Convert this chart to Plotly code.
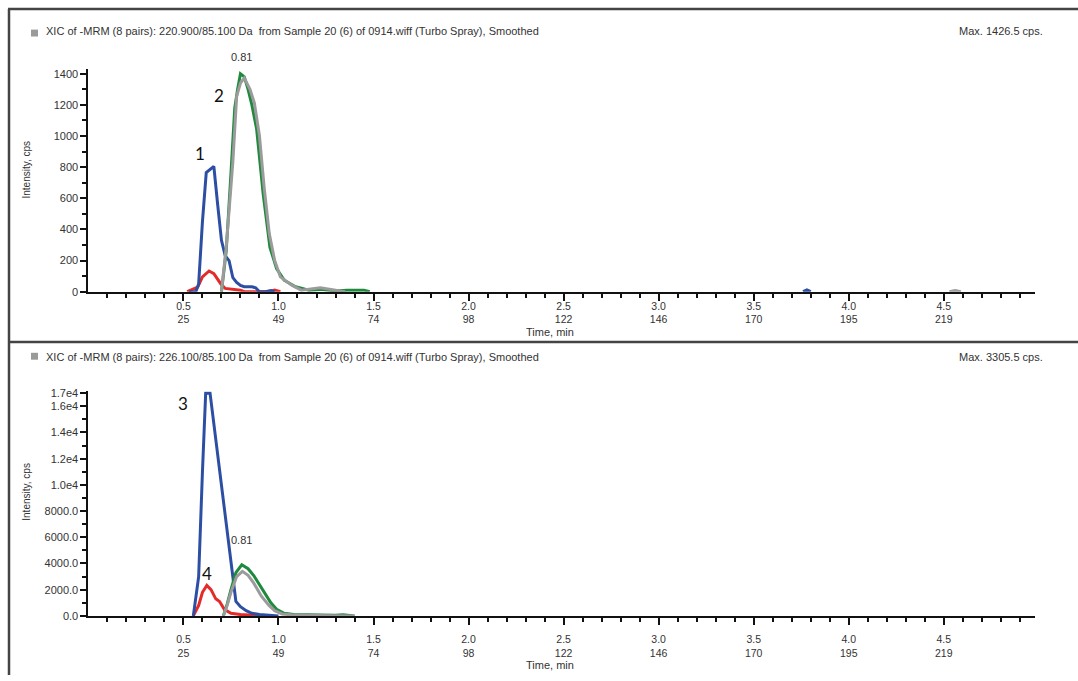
import plotly.graph_objects as go

W, H = 1078, 681

# ---------------- data ----------------
# Top panel (220.900/85.100 Da)
top_blue_t = [0.53, 0.565, 0.58, 0.60, 0.62, 0.64, 0.66, 0.68, 0.70, 0.72, 0.74, 0.76, 0.78, 0.80, 0.82, 0.84, 0.86, 0.88, 0.90, 0.93, 0.96, 0.98]
top_blue_v = [0, 0, 50, 450, 765, 785, 805, 560, 330, 230, 200, 90, 60, 40, 32, 32, 32, 25, 0, 0, 8, 0]
top_red_t = [0.52, 0.575, 0.60, 0.635, 0.66, 0.695, 0.72, 0.77, 0.80, 0.82, 0.95, 0.98, 1.01]
top_red_v = [0, 30, 95, 133, 116, 53, 21, 15, 10, 0, 0, 10, 0]
top_green_t = [0.70, 0.725, 0.75, 0.77, 0.785, 0.80, 0.82, 0.84, 0.86, 0.885, 0.92, 0.955, 0.99, 1.03, 1.09, 1.16, 1.22, 1.30, 1.36, 1.40, 1.45, 1.48]
top_green_v = [0, 260, 760, 1180, 1300, 1400, 1380, 1300, 1200, 1045, 622, 285, 148, 74, 32, 10, 15, 5, 10, 8, 10, 0]
top_grey_t = [0.70, 0.725, 0.76, 0.78, 0.80, 0.82, 0.85, 0.873, 0.90, 0.925, 0.952, 0.98, 1.01, 1.07, 1.12, 1.20, 1.22, 1.30, 1.35]
top_grey_v = [0, 285, 833, 1255, 1340, 1372, 1300, 1213, 1000, 665, 370, 200, 95, 42, 10, 21, 25, 10, 0]
top_blip_blue_t = [3.76, 3.78, 3.80]
top_blip_blue_v = [0, 12, 0]
top_blip_grey_t = [4.53, 4.56, 4.59]
top_blip_grey_v = [0, 8, 0]
top_edge_v = [65]

# Bottom panel (226.100/85.100 Da)
bot_blue_t = [0.552, 0.58, 0.60, 0.617, 0.64, 0.66, 0.68, 0.70, 0.72, 0.74, 0.76, 0.776, 0.80, 0.83, 0.86, 0.90, 0.95, 1.00]
bot_blue_v = [0, 3000, 11000, 17000, 17000, 14600, 12300, 9900, 7600, 5200, 2900, 1100, 700, 400, 200, 100, 50, 0]
bot_red_t = [0.552, 0.58, 0.60, 0.623, 0.645, 0.67, 0.69, 0.715, 0.75, 0.80, 0.87, 0.92]
bot_red_v = [0, 800, 1800, 2330, 2000, 1300, 1100, 500, 200, 100, 50, 0]
bot_green_t = [0.71, 0.73, 0.75, 0.776, 0.807, 0.84, 0.87, 0.917, 0.96, 0.99, 1.03, 1.08, 1.20, 1.30, 1.34, 1.38, 1.40]
bot_green_v = [0, 900, 2000, 3300, 3900, 3600, 3080, 2000, 1000, 500, 200, 100, 50, 40, 80, 40, 0]
bot_grey_t = [0.71, 0.73, 0.75, 0.78, 0.81, 0.84, 0.87, 0.91, 0.95, 0.98, 1.02, 1.08, 1.20, 1.30, 1.40]
bot_grey_v = [0, 800, 1800, 3000, 3400, 3100, 2500, 1500, 800, 400, 150, 60, 30, 20, 0]
bot_edge_v = [1000]

# Axis ticks
x_major = [0.5, 1.0, 1.5, 2.0, 2.5, 3.0, 3.5, 4.0, 4.5]
x_minutes = ["0.5", "1.0", "1.5", "2.0", "2.5", "3.0", "3.5", "4.0", "4.5"]
x_cycles = ["25", "49", "74", "98", "122", "146", "170", "195", "219"]
x_minor = [0.1, 0.2, 0.3, 0.4, 0.6, 0.7, 0.8, 0.9, 1.1, 1.2, 1.3, 1.4, 1.6, 1.7, 1.8, 1.9,
           2.1, 2.2, 2.3, 2.4, 2.6, 2.7, 2.8, 2.9, 3.1, 3.2, 3.3, 3.4, 3.6, 3.7, 3.8, 3.9,
           4.1, 4.2, 4.3, 4.4, 4.6, 4.7, 4.8, 4.9]
top_y_major = [0, 200, 400, 600, 800, 1000, 1200, 1400]
top_y_minor = [100, 300, 500, 700, 900, 1100, 1300]
bot_y_major = [0, 2000, 4000, 6000, 8000, 10000, 12000, 14000, 16000, 17000]
bot_y_text = ["0.0", "2000.0", "4000.0", "6000.0", "8000.0", "1.0e4", "1.2e4", "1.4e4", "1.6e4", "1.7e4"]
bot_y_minor = [1000, 3000, 5000, 7000, 9000, 11000, 13000, 15000]

top_title = "XIC of -MRM (8 pairs): 220.900/85.100 Da  from Sample 20 (6) of 0914.wiff (Turbo Spray), Smoothed"
bot_title = "XIC of -MRM (8 pairs): 226.100/85.100 Da  from Sample 20 (6) of 0914.wiff (Turbo Spray), Smoothed"
top_max = "Max. 1426.5 cps."
bot_max = "Max. 3305.5 cps."

# ---------------- style ----------------
BLUE = "#2d4fa3"
RED = "#e52a2a"
GREEN = "#1f8a3e"
GREY = "#9b9b9b"
TXT = "#333333"
FONT = "Arial, Liberation Sans, sans-serif"
LW = 3
XRANGE = [0, 4.98]
TICKF = 10.5


def px(x):
    return x / W


def py(y):
    return 1 - y / H


fig = go.Figure()


def add_line(t, v, color, xa, ya):
    fig.add_trace(go.Scatter(x=t, y=v, mode="lines", line=dict(color=color, width=LW),
                             xaxis=xa, yaxis=ya, showlegend=False, hoverinfo="skip"))


for (t, v, c) in [(top_red_t, top_red_v, RED), (top_blue_t, top_blue_v, BLUE),
                  (top_blip_blue_t, top_blip_blue_v, BLUE),
                  (top_green_t, top_green_v, GREEN), (top_grey_t, top_grey_v, GREY),
                  (top_blip_grey_t, top_blip_grey_v, GREY)]:
    add_line(t, v, c, "x", "y")

for (t, v, c) in [(bot_red_t, bot_red_v, RED), (bot_blue_t, bot_blue_v, BLUE),
                  (bot_green_t, bot_green_v, GREEN), (bot_grey_t, bot_grey_v, GREY)]:
    add_line(t, v, c, "x2", "y2")

# edge markers
fig.add_trace(go.Scatter(x=[-0.025], y=top_edge_v, mode="markers", cliponaxis=False,
                         marker=dict(symbol="triangle-right", size=8, color=BLUE),
                         xaxis="x", yaxis="y", showlegend=False, hoverinfo="skip"))
fig.add_trace(go.Scatter(x=[-0.025], y=bot_edge_v, mode="markers", cliponaxis=False,
                         marker=dict(symbol="triangle-right", size=8, color=BLUE),
                         xaxis="x2", yaxis="y2", showlegend=False, hoverinfo="skip"))

# invisible traces so the cycle-number overlay axes get drawn
fig.add_trace(go.Scatter(x=[None], y=[None], xaxis="x3", yaxis="y", showlegend=False, hoverinfo="skip"))
fig.add_trace(go.Scatter(x=[None], y=[None], xaxis="x4", yaxis="y2", showlegend=False, hoverinfo="skip"))

XDOM = [px(88.4), px(1035)]


def xaxis_cfg(anchor, standoff):
    return dict(domain=XDOM, range=XRANGE, anchor=anchor, showgrid=False, zeroline=False,
                showline=True, linecolor="#111", linewidth=2,
                tickmode="array", tickvals=x_major, ticktext=x_minutes,
                ticks="outside", ticklen=7, tickwidth=2, tickcolor="#111",
                ticklabelstandoff=standoff,
                tickfont=dict(family=FONT, size=TICKF, color=TXT),
                minor=dict(tickmode="array", tickvals=x_minor, ticks="outside", ticklen=4,
                           tickwidth=2, tickcolor="#111", showgrid=False))


def xcyc_cfg(anchor, over, standoff):
    return dict(domain=XDOM, range=XRANGE, anchor=anchor, overlaying=over, side="bottom",
                showgrid=False, zeroline=False, showline=False,
                tickmode="array", tickvals=x_major, ticktext=x_cycles, ticks="",
                ticklabelstandoff=standoff,
                tickfont=dict(family=FONT, size=TICKF, color=TXT))


def yaxis_cfg(anchor, dom, rng, vals, text, minor):
    return dict(domain=dom, range=rng, anchor=anchor, showgrid=False, zeroline=False,
                showline=True, linecolor="#111", linewidth=2,
                tickmode="array", tickvals=vals, ticktext=text,
                ticks="outside", ticklen=6, tickwidth=2, tickcolor="#111",
                tickfont=dict(family=FONT, size=11, color=TXT),
                minor=dict(tickmode="array", tickvals=minor, ticks="outside", ticklen=4,
                           tickwidth=2, tickcolor="#111", showgrid=False))


fig.update_layout(
    width=W, height=H, margin=dict(l=0, r=0, t=0, b=0),
    paper_bgcolor="white", plot_bgcolor="white", showlegend=False,
    xaxis=xaxis_cfg("y", -3),
    xaxis3=xcyc_cfg("y", "x", 20),
    yaxis=yaxis_cfg("x", [py(292), py(66)], [0, 1430], top_y_major,
                    [str(v) for v in top_y_major], top_y_minor),
    xaxis2=xaxis_cfg("y2", 6),
    xaxis4=xcyc_cfg("y2", "x2", 30),
    yaxis2=yaxis_cfg("x2", [py(621), py(393)], [0, 17150], bot_y_major, bot_y_text, bot_y_minor),
)

ann = []


def text(x, y, s, size=11, xanchor="left", color=TXT, family=FONT, angle=0):
    ann.append(dict(x=px(x), y=py(y), xref="paper", yref="paper", text=s, showarrow=False,
                    xanchor=xanchor, yanchor="middle", textangle=angle,
                    font=dict(family=family, size=size, color=color)))


text(44, 27, top_title)
text(1045, 27, top_max, xanchor="right")
text(44, 358, bot_title)
text(1045, 358, bot_max, xanchor="right")
text(27, 168, "Intensity, cps", size=10, xanchor="center", angle=-90)
text(27, 495, "Intensity, cps", size=10, xanchor="center", angle=-90)
text(550, 333, "Time, min", xanchor="center")
text(550, 671, "Time, min", xanchor="center")
text(241, 54, "0.81", xanchor="center")
text(241, 544, "0.81", xanchor="center")
NUMF = "Lato, Open Sans, sans-serif"
text(200, 152, "1", size=17, xanchor="center", color="#111", family=NUMF)
text(219, 93, "2", size=17, xanchor="center", color="#111", family=NUMF)
text(183, 405, "3", size=17, xanchor="center", color="#111", family=NUMF)
text(207, 578, "4", size=17, xanchor="center", color="#111", family=NUMF)
fig.update_layout(annotations=ann)

shapes = [
    dict(type="rect", xref="paper", yref="paper", x0=px(31), x1=px(38), y0=py(33), y1=py(26),
         fillcolor="#9a9a9a", line=dict(width=0)),
    dict(type="rect", xref="paper", yref="paper", x0=px(31), x1=px(38), y0=py(361), y1=py(354),
         fillcolor="#9a9a9a", line=dict(width=0)),
    dict(type="line", xref="paper", yref="paper", x0=px(8), x1=1, y0=py(5), y1=py(5),
         line=dict(color="#444", width=2.5)),
    dict(type="line", xref="paper", yref="paper", x0=px(8), x1=1, y0=py(343), y1=py(343),
         line=dict(color="#444", width=2.5)),
    dict(type="line", xref="paper", yref="paper", x0=px(9), x1=px(9), y0=py(5), y1=0,
         line=dict(color="#444", width=2.5)),
]
fig.update_layout(shapes=shapes)

fig.write_html("out.html")
